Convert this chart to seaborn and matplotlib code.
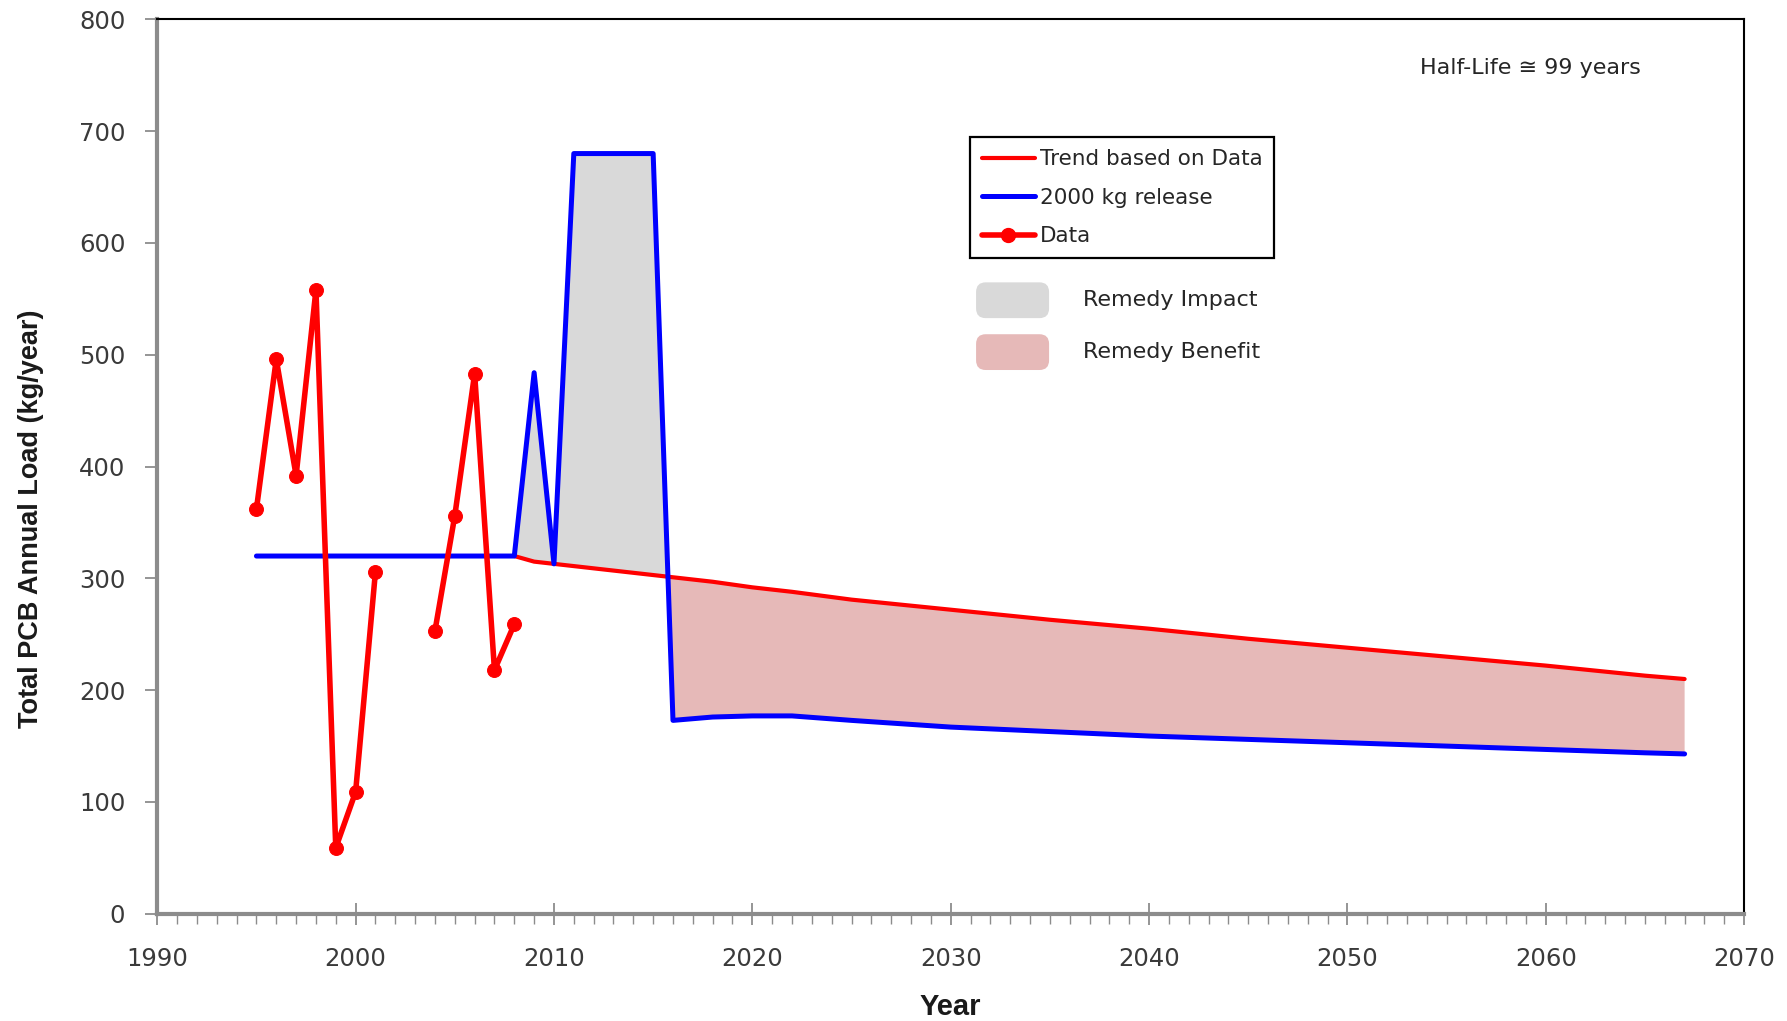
import numpy as np
import pandas as pd
import matplotlib
matplotlib.use("Agg")
import matplotlib.pyplot as plt
from matplotlib.lines import Line2D
from matplotlib.patches import FancyBboxPatch
from matplotlib.ticker import MultipleLocator
import seaborn as sns

# Measured annual PCB loads (two sampling periods)
data_years = [1995, 1996, 1997, 1998, 1999, 2000, 2001, 2004, 2005, 2006, 2007, 2008]
data_load = [362, 496, 392, 558, 59, 109, 306, 253, 356, 483, 218, 259]
data_period = [1, 1, 1, 1, 1, 1, 1, 2, 2, 2, 2, 2]

# Pre-remedy baseline of the release scenario
baseline_years = [1995]
baseline_load = [320]

# Projection grid shared by the trend and the release scenario
proj_years = [2008, 2009, 2010, 2011, 2012, 2013, 2014, 2015, 2016, 2018, 2020, 2022,
              2025, 2030, 2035, 2040, 2045, 2050, 2055, 2060, 2065, 2067]
trend_load = [320, 315, 313, 311, 309, 307, 305, 303, 301, 297, 292, 288,
              281, 272, 263, 255, 246, 238, 230, 222, 213, 210]
release_load = [320, 484, 313, 680, 680, 680, 680, 680, 173, 176, 177, 177,
                173, 167, 163, 159, 156, 153, 150, 147, 144, 143]

RED = "#FF0000"
BLUE = "#0000FF"
GREY_FILL = "#D9D9D9"
PINK_FILL = "#E6B9B8"

sns.set_theme(style="white")
plt.rcParams["font.family"] = ["DejaVu Sans"]

fig = plt.figure(figsize=(17.87, 10.21), dpi=100)
ax = fig.add_axes([0.088, 0.105, 0.888, 0.876])

data_df = pd.DataFrame({"Year": data_years, "Load": data_load, "Period": data_period})
trend_df = pd.DataFrame({"Year": proj_years, "Load": trend_load})
release_df = pd.DataFrame({"Year": baseline_years + proj_years,
                           "Load": baseline_load + release_load})

px = np.array(proj_years, dtype=float)
tr = np.array(trend_load, dtype=float)
rl = np.array(release_load, dtype=float)

# Remedy impact (release above trend) and remedy benefit (trend above release)
ax.fill_between(px, tr, rl, where=rl >= tr, interpolate=True,
                color=GREY_FILL, lw=0, zorder=1)
ax.fill_between(px, tr, rl, where=tr >= rl, interpolate=True,
                color=PINK_FILL, lw=0, zorder=1)

sns.lineplot(data=trend_df, x="Year", y="Load", ax=ax, color=RED, lw=3,
             estimator=None, sort=False, zorder=3)
sns.lineplot(data=release_df, x="Year", y="Load", ax=ax, color=BLUE, lw=3.6,
             estimator=None, sort=False, zorder=4)
sns.lineplot(data=data_df, x="Year", y="Load", units="Period", ax=ax, color=RED,
             lw=4, marker="o", markersize=10, markeredgecolor=RED,
             estimator=None, sort=False, zorder=5)

ax.set_xlim(1990, 2070)
ax.set_ylim(0, 800)
ax.set_xlabel("")
ax.set_ylabel("")

ax.xaxis.set_major_locator(MultipleLocator(10))
ax.xaxis.set_minor_locator(MultipleLocator(1))
ax.yaxis.set_major_locator(MultipleLocator(100))

axis_grey = "#8C8C8C"
label_col = "#3A3A3A"
for side in ("left", "bottom"):
    ax.spines[side].set_color(axis_grey)
    ax.spines[side].set_linewidth(3)
for side in ("top", "right"):
    ax.spines[side].set_color("black")
    ax.spines[side].set_linewidth(1.5)

ax.tick_params(axis="y", which="major", direction="out", length=9, width=1.3,
               color=axis_grey, labelsize=17.5, labelcolor=label_col, pad=14, left=True)
ax.tick_params(axis="x", which="major", direction="inout", length=16, width=1.3,
               color=axis_grey, labelsize=17.5, labelcolor=label_col, pad=16, bottom=True)
ax.tick_params(axis="x", which="minor", direction="out", length=7, width=1.0,
               color=axis_grey, bottom=True)

fig.text(31 / 1787, 0.492, "Total PCB Annual Load (kg/year)", rotation=90,
         ha="center", va="center", fontsize=19.5, fontweight="bold",
         family=["Liberation Sans Narrow", "Liberation Sans", "DejaVu Sans"],
         color="#1A1A1A")
fig.text(0.532, 0.014, "Year", ha="center", va="center", fontsize=21,
         fontweight="bold",
         family=["Liberation Sans Narrow", "Liberation Sans", "DejaVu Sans"],
         color="#1A1A1A")

ax.text(0.796, 0.946, "Half-Life \u2245 99 years", transform=ax.transAxes,
        ha="left", va="center", fontsize=16, color="#262626")

handles = [
    Line2D([], [], color=RED, lw=3),
    Line2D([], [], color=BLUE, lw=3.6),
    Line2D([], [], color=RED, lw=4, marker="o", markersize=10),
]
labels = ["Trend based on Data", "2000 kg release", "Data"]
leg = ax.legend(handles, labels, loc="upper left", bbox_to_anchor=(0.512, 0.868),
                borderaxespad=0, frameon=True, fancybox=False, framealpha=1,
                edgecolor="black", fontsize=15.5, handlelength=2.5,
                handletextpad=0.2, labelspacing=0.86, borderpad=0.55)
leg.get_frame().set_linewidth(1.6)
for t in leg.get_texts():
    t.set_color("#262626")

# Shaded-area key
for (y0, col, txt) in [(0.664, GREY_FILL, "Remedy Impact"),
                       (0.606, PINK_FILL, "Remedy Benefit")]:
    patch = FancyBboxPatch((0.516, y0 + 0.002), 0.046, 0.040,
                           boxstyle="round,pad=0.0,rounding_size=0.006",
                           transform=ax.transAxes, facecolor=col, edgecolor="none",
                           zorder=6, mutation_aspect=1.8)
    ax.add_patch(patch)
    ax.text(0.5835, y0 + 0.022, txt, transform=ax.transAxes, ha="left",
            va="center", fontsize=16, color="#262626")

fig.savefig("out.png", dpi=100)
